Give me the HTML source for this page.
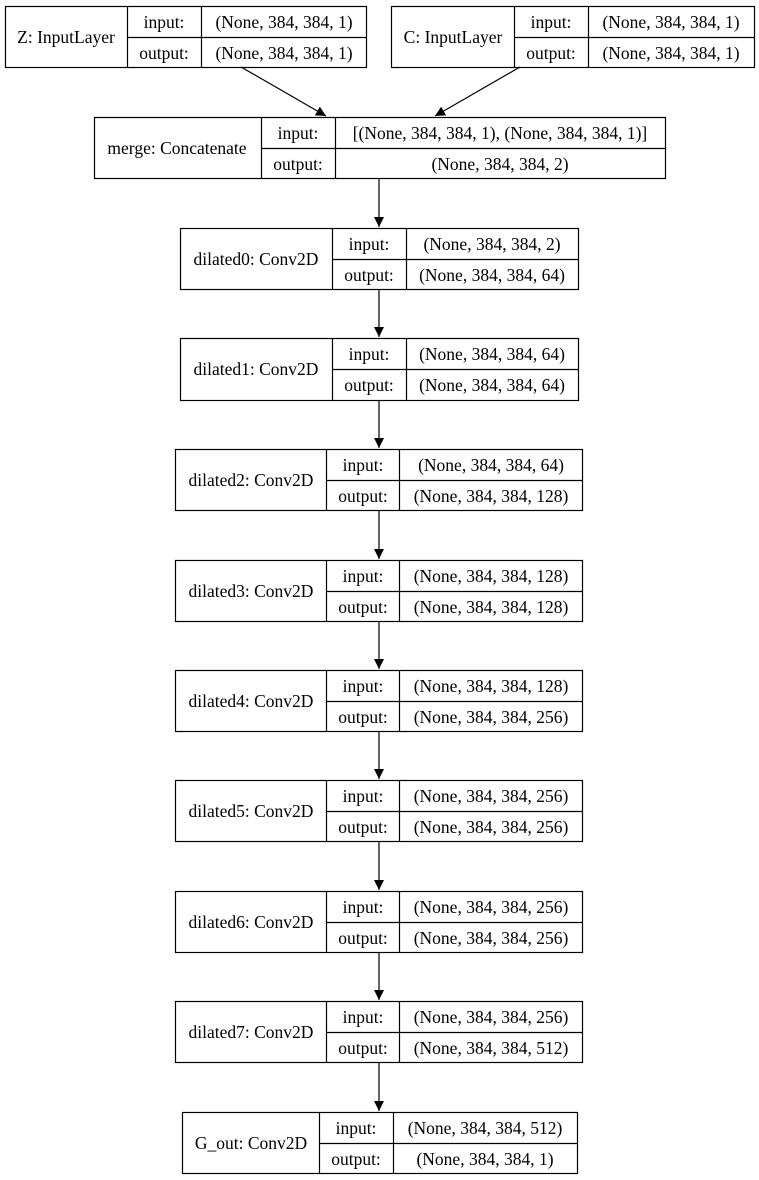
<!DOCTYPE html>
<html><head><meta charset="utf-8"><style>
html,body{margin:0;padding:0;background:#fff;}
svg{display:block;}
text{font-family:"Liberation Serif",serif;font-size:17.5px;fill:#000;}
</style></head><body>
<svg width="759" height="1180" viewBox="0 0 759 1180" xmlns="http://www.w3.org/2000/svg">
<defs>
<marker id="a" markerWidth="10" markerHeight="10" refX="10" refY="5" orient="auto" markerUnits="userSpaceOnUse">
<path d="M0,0 L10,5 L0,10 z" fill="#000"/>
</marker>
</defs>
<g fill="none" stroke="#000" stroke-width="1.2">
<line x1="241" y1="67" x2="326" y2="116" marker-end="url(#a)"/>
<line x1="520" y1="67" x2="435" y2="116" marker-end="url(#a)"/>
<line x1="379" y1="178" x2="379" y2="227" marker-end="url(#a)"/>
<line x1="379" y1="289" x2="379" y2="337" marker-end="url(#a)"/>
<line x1="379" y1="400" x2="379" y2="448" marker-end="url(#a)"/>
<line x1="379" y1="510" x2="379" y2="559" marker-end="url(#a)"/>
<line x1="379" y1="621" x2="379" y2="669" marker-end="url(#a)"/>
<line x1="379" y1="731" x2="379" y2="779" marker-end="url(#a)"/>
<line x1="379" y1="841" x2="379" y2="890" marker-end="url(#a)"/>
<line x1="379" y1="952" x2="379" y2="1000" marker-end="url(#a)"/>
<line x1="379" y1="1062" x2="379" y2="1111" marker-end="url(#a)"/>
</g>
<g fill="none" stroke="#000" stroke-width="1.2">
<rect x="5.5" y="6.5" width="361" height="61"/><line x1="127.5" y1="6.5" x2="127.5" y2="67.5"/><line x1="201.5" y1="6.5" x2="201.5" y2="67.5"/><line x1="127.5" y1="37.5" x2="366.5" y2="37.5"/>
<rect x="391.5" y="6.5" width="363" height="61"/><line x1="514.5" y1="6.5" x2="514.5" y2="67.5"/><line x1="588.5" y1="6.5" x2="588.5" y2="67.5"/><line x1="514.5" y1="37.5" x2="754.5" y2="37.5"/>
<rect x="94.5" y="117.5" width="571" height="61"/><line x1="261.5" y1="117.5" x2="261.5" y2="178.5"/><line x1="335.5" y1="117.5" x2="335.5" y2="178.5"/><line x1="261.5" y1="148.5" x2="665.5" y2="148.5"/>
<rect x="180.5" y="228.5" width="398" height="61"/><line x1="332.5" y1="228.5" x2="332.5" y2="289.5"/><line x1="406.5" y1="228.5" x2="406.5" y2="289.5"/><line x1="332.5" y1="259.5" x2="578.5" y2="259.5"/>
<rect x="180.5" y="338.5" width="398" height="62"/><line x1="332.5" y1="338.5" x2="332.5" y2="400.5"/><line x1="406.5" y1="338.5" x2="406.5" y2="400.5"/><line x1="332.5" y1="369.5" x2="578.5" y2="369.5"/>
<rect x="175.5" y="449.5" width="407" height="61"/><line x1="326.5" y1="449.5" x2="326.5" y2="510.5"/><line x1="399.5" y1="449.5" x2="399.5" y2="510.5"/><line x1="326.5" y1="480.5" x2="582.5" y2="480.5"/>
<rect x="175.5" y="560.5" width="407" height="61"/><line x1="326.5" y1="560.5" x2="326.5" y2="621.5"/><line x1="399.5" y1="560.5" x2="399.5" y2="621.5"/><line x1="326.5" y1="591.5" x2="582.5" y2="591.5"/>
<rect x="175.5" y="670.5" width="407" height="61"/><line x1="326.5" y1="670.5" x2="326.5" y2="731.5"/><line x1="399.5" y1="670.5" x2="399.5" y2="731.5"/><line x1="326.5" y1="701.5" x2="582.5" y2="701.5"/>
<rect x="175.5" y="780.5" width="407" height="61"/><line x1="326.5" y1="780.5" x2="326.5" y2="841.5"/><line x1="399.5" y1="780.5" x2="399.5" y2="841.5"/><line x1="326.5" y1="811.5" x2="582.5" y2="811.5"/>
<rect x="175.5" y="891.5" width="407" height="61"/><line x1="326.5" y1="891.5" x2="326.5" y2="952.5"/><line x1="399.5" y1="891.5" x2="399.5" y2="952.5"/><line x1="326.5" y1="922.5" x2="582.5" y2="922.5"/>
<rect x="175.5" y="1001.5" width="407" height="61"/><line x1="326.5" y1="1001.5" x2="326.5" y2="1062.5"/><line x1="399.5" y1="1001.5" x2="399.5" y2="1062.5"/><line x1="326.5" y1="1032.5" x2="582.5" y2="1032.5"/>
<rect x="182.5" y="1112.5" width="395" height="61"/><line x1="319.5" y1="1112.5" x2="319.5" y2="1173.5"/><line x1="393.5" y1="1112.5" x2="393.5" y2="1173.5"/><line x1="319.5" y1="1143.5" x2="577.5" y2="1143.5"/>
</g>
<g text-anchor="middle">
<text x="66" y="43">Z: InputLayer</text><text x="164" y="28">input:</text><text x="164" y="59">output:</text><text x="284" y="28">(None, 384, 384, 1)</text><text x="284" y="59">(None, 384, 384, 1)</text>
<text x="453" y="43">C: InputLayer</text><text x="551" y="28">input:</text><text x="551" y="59">output:</text><text x="671" y="28">(None, 384, 384, 1)</text><text x="671" y="59">(None, 384, 384, 1)</text>
<text x="177" y="154">merge: Concatenate</text><text x="298" y="139">input:</text><text x="298" y="170">output:</text><text x="500" y="139">[(None, 384, 384, 1), (None, 384, 384, 1)]</text><text x="500" y="170">(None, 384, 384, 2)</text>
<text x="256" y="265">dilated0: Conv2D</text><text x="369" y="250">input:</text><text x="369" y="281">output:</text><text x="492" y="250">(None, 384, 384, 2)</text><text x="492" y="281">(None, 384, 384, 64)</text>
<text x="256" y="375">dilated1: Conv2D</text><text x="369" y="360">input:</text><text x="369" y="391">output:</text><text x="492" y="360">(None, 384, 384, 64)</text><text x="492" y="391">(None, 384, 384, 64)</text>
<text x="251" y="486">dilated2: Conv2D</text><text x="363" y="471">input:</text><text x="363" y="502">output:</text><text x="491" y="471">(None, 384, 384, 64)</text><text x="491" y="502">(None, 384, 384, 128)</text>
<text x="251" y="597">dilated3: Conv2D</text><text x="363" y="582">input:</text><text x="363" y="613">output:</text><text x="491" y="582">(None, 384, 384, 128)</text><text x="491" y="613">(None, 384, 384, 128)</text>
<text x="251" y="707">dilated4: Conv2D</text><text x="363" y="692">input:</text><text x="363" y="723">output:</text><text x="491" y="692">(None, 384, 384, 128)</text><text x="491" y="723">(None, 384, 384, 256)</text>
<text x="251" y="817">dilated5: Conv2D</text><text x="363" y="802">input:</text><text x="363" y="833">output:</text><text x="491" y="802">(None, 384, 384, 256)</text><text x="491" y="833">(None, 384, 384, 256)</text>
<text x="251" y="928">dilated6: Conv2D</text><text x="363" y="913">input:</text><text x="363" y="944">output:</text><text x="491" y="913">(None, 384, 384, 256)</text><text x="491" y="944">(None, 384, 384, 256)</text>
<text x="251" y="1038">dilated7: Conv2D</text><text x="363" y="1023">input:</text><text x="363" y="1054">output:</text><text x="491" y="1023">(None, 384, 384, 256)</text><text x="491" y="1054">(None, 384, 384, 512)</text>
<text x="251" y="1149">G_out: Conv2D</text><text x="356" y="1134">input:</text><text x="356" y="1165">output:</text><text x="485" y="1134">(None, 384, 384, 512)</text><text x="485" y="1165">(None, 384, 384, 1)</text>
</g>
</svg>
</body></html>
